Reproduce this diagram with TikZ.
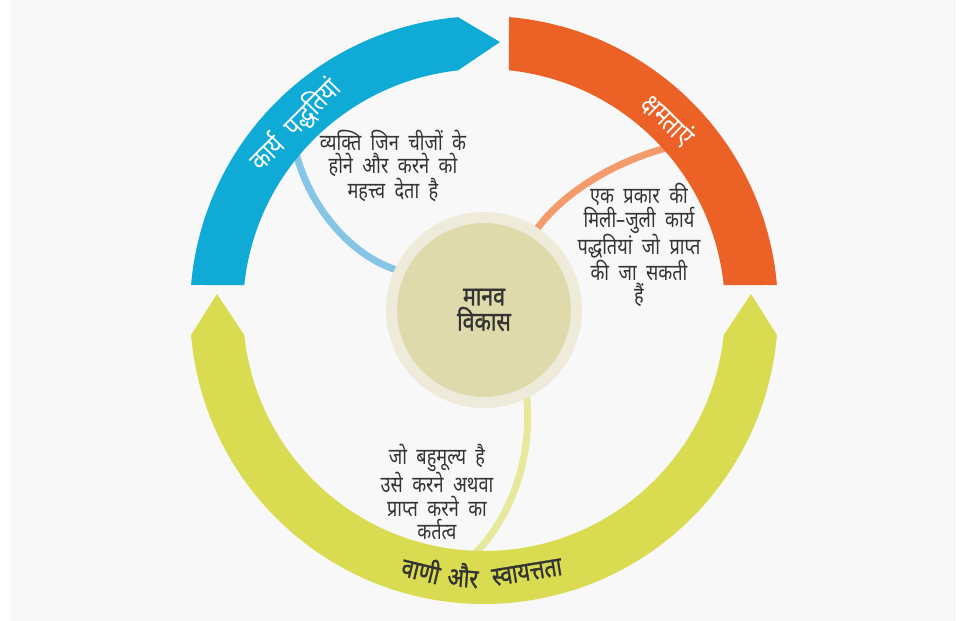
\documentclass[tikz,border=0pt]{standalone}
\usepackage{fontspec}
\usetikzlibrary{backgrounds}
\newfontfamily\dev[Script=Devanagari,FakeStretch=0.8,WordSpace=2]{Noto Sans}
\newfontfamily\devb[Script=Devanagari,FakeStretch=0.8,FakeBold=1.2,WordSpace=2]{Noto Sans}

\definecolor{pagegrey}{HTML}{F8F8F8}
\definecolor{bandblue}{HTML}{10AAD7}
\definecolor{bandorange}{HTML}{EB6126}
\definecolor{bandyellow}{HTML}{D9DC50}
\definecolor{linkblue}{HTML}{86C5E5}
\definecolor{linkorange}{HTML}{F39B6B}
\definecolor{linkyellow}{HTML}{E6E89B}
\definecolor{corefill}{HTML}{DFDAAB}
\definecolor{corehalo}{HTML}{EEEBDA}
\definecolor{textgrey}{HTML}{333333}

\tikzset{
  link/.style={line width=5.25pt},
  bodytext/.style={font=\dev\fontsize{17}{17.6}\selectfont, text=textgrey, align=center, inner sep=0pt},
  ringlabel/.style={font=\dev\fontsize{21}{22}\selectfont, text=white, inner sep=0pt},
  basetext/.style={font=\devb\fontsize{20}{22}\selectfont, text=textgrey, inner sep=0pt},
  core/.style={circle, fill=corefill, draw=corehalo, line width=8.25pt,
    minimum size=138.75pt, inner sep=0pt, outer sep=0pt,
    font=\devb\fontsize{20}{17.25}\selectfont, text=textgrey, align=center}
}

\begin{document}
\begin{tikzpicture}[x=0.75pt,y=0.75pt]
\useasboundingbox (-484,-311) rectangle (477,310);

% centre circle
\node[core] (core) at (0,0) {मानव\\विकास};

% free ends of the three links, hidden under the bands
\coordinate (kpEnd) at (-190,166);
\coordinate (ksEnd) at (186,163);
\coordinate (vsEnd) at (-17,-251);

\begin{pgfonlayer}{background}
  \fill[white] (-484,-311) rectangle (477,310);
  \fill[pagegrey] (-474,-311) rectangle (472,310);
  % links from the bands to the centre
  \draw[link, linkblue] (kpEnd) .. controls (-178,105) and (-132,52) .. (core.155);
  \draw[link, linkorange] (ksEnd) .. controls (135,150) and (80,120) .. (core.57);
  \draw[link, linkyellow] (core.297) .. controls (50,-140) and (30,-210) .. (vsEnd);
\end{pgfonlayer}

% upper left band with arrow tip
\fill[bandblue] (175.12:294) arc[start angle=175.12, end angle=95.07, radius=294]
  -- (16,268) -- (96.19:241) arc[start angle=96.19, end angle=174.05, radius=241] -- cycle;
% upper right band
\fill[bandorange] (85.12:294) arc[start angle=85.12, end angle=4.88, radius=294]
  -- (5.95:241) arc[start angle=5.95, end angle=84.05, radius=241] -- cycle;
% lower band with two arrow tips
\fill[bandyellow] (-267,16) -- (184.88:294) arc[start angle=184.88, end angle=355.12, radius=294]
  -- (267,16) -- (354.05:241) arc[start angle=354.05, end angle=185.95, radius=241] -- cycle;

% band labels
\node[ringlabel, rotate=45.5] (kpLabel) at (135.5:265) {कार्य पद्धतियां};
\node[ringlabel, rotate=-44.1] (ksLabel) at (45.9:265) {क्षमताएं};
\node[basetext, rotate=-13.6] (vsA) at (256.4:266) {वाणी};
\node[basetext, rotate=-4.5] (vsB) at (265.5:266) {और};
\node[basetext, rotate=9.3] (vsC) at (279.3:266) {स्वायत्तता};

% descriptions
\node[bodytext] (kpText) at (-91,144) {व्यक्ति जिन चीजों के\\होने और करने को\\महत्त्व देता है};
\node[bodytext] (ksText) at (155,65) {एक प्रकार की\\मिली–जुली कार्य\\पद्धतियां जो प्राप्त\\की जा सकती\\हैं};
\node[bodytext] (vsText) at (-47,-182) {जो बहुमूल्य है\\उसे करने अथवा\\प्राप्त करने का\\कर्तत्व};
\end{tikzpicture}
\end{document}
